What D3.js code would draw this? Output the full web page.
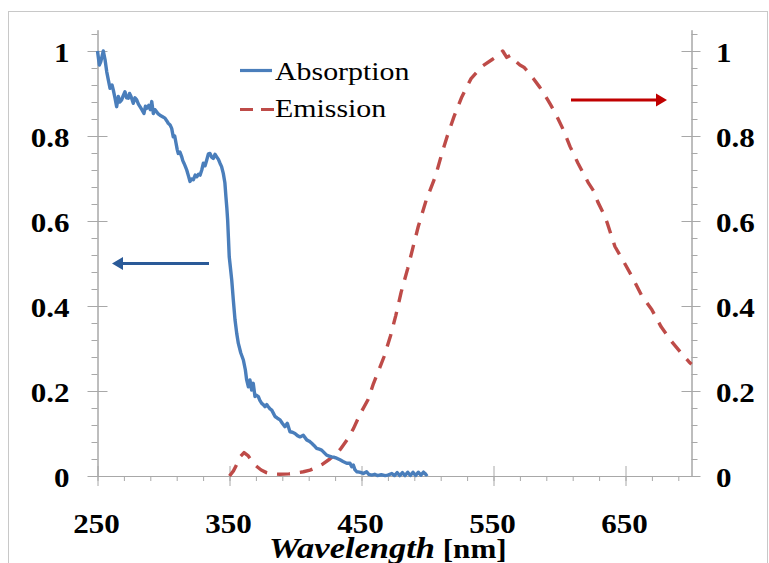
<!DOCTYPE html>
<html>
<head>
<meta charset="utf-8">
<script src="https://cdn.jsdelivr.net/npm/d3@7"></script>
<style>
  html, body { margin: 0; padding: 0; background: #fff; }
  svg { display: block; }
  text { font-family: "Liberation Serif", "Times New Roman", serif; fill: #000; }
</style>
</head>
<body>
<svg id="chart" width="769" height="563"></svg>
<script>
// Absorption spectrum: [wavelength nm, normalised absorbance]
const absorption = [
  [250,1.0],[251.4,0.967],[252.5,0.975],[254.4,1.0],[255.7,0.98],[257,0.951],[258.2,0.932],[259.5,0.912],
  [261,0.92],[262,0.908],[263.2,0.89],[264.5,0.869],[265.8,0.893],[267,0.88],[268.3,0.885],[269.5,0.895],
  [270.8,0.904],[272,0.89],[273.3,0.889],[274.3,0.9],[275.4,0.893],[277.1,0.877],[278.4,0.89],[279.7,0.885],
  [281,0.875],[282.2,0.869],[283.6,0.862],[285.2,0.853],[286.3,0.87],[287.3,0.865],[288.8,0.872],[290,0.862],
  [291.1,0.881],[292.3,0.853],[293.5,0.862],[294.8,0.857],[296,0.852],[297.3,0.849],[299,0.846],[301.1,0.842],
  [302.4,0.836],[303.6,0.83],[305,0.826],[306.2,0.818],[307.4,0.798],[308.5,0.8],[309.5,0.783],[310.4,0.768],
  [311.2,0.759],[312.5,0.762],[313.8,0.751],[314.6,0.742],[315.5,0.736],[316.6,0.728],[317.6,0.72],[319,0.705],
  [320.1,0.693],[321.3,0.699],[322.6,0.697],[324,0.708],[325.2,0.704],[326.5,0.71],[327.7,0.708],[329,0.72],
  [330.2,0.736],[331.5,0.73],[332.7,0.743],[334,0.758],[335.2,0.759],[336.5,0.75],[337.7,0.747],[339,0.757],
  [340.3,0.751],[341.6,0.745],[342.8,0.736],[344,0.728],[345.3,0.712],[346.5,0.69],[347.3,0.657],[348,0.63],
  [348.6,0.602],[349.2,0.56],[349.8,0.516],[350.7,0.49],[351.7,0.461],[352.9,0.414],[354.2,0.367],[355.5,0.335],
  [356.7,0.312],[358.5,0.29],[360.5,0.273],[362,0.25],[363,0.226],[364.3,0.21],[365.5,0.226],[366.8,0.202],
  [368,0.218],[369.3,0.187],[370.5,0.19],[371.8,0.187],[373,0.178],[374.4,0.171],[375.6,0.168],[376.9,0.163],
  [378.2,0.168],[379.4,0.163],[380.7,0.158],[382,0.155],[383.2,0.148],[384.5,0.14],[386.3,0.136],[388.3,0.132],
  [390,0.124],[392,0.116],[393.8,0.124],[395.8,0.104],[397.7,0.103],[399.6,0.1],[401.5,0.095],[403.4,0.092],
  [405.9,0.096],[408.5,0.085],[410.4,0.082],[412.3,0.077],[414,0.072],[416,0.065],[418,0.063],[419.8,0.061],
  [421.7,0.055],[423.6,0.049],[425.5,0.047],[427.4,0.045],[429.3,0.044],[431.2,0.042],[433.7,0.038],[436,0.034],
  [438.8,0.03],[441.3,0.03],[442.6,0.022],[443.8,0.026],[445,0.015],[446.4,0.01],[448.5,0.009],[451.4,0.006],
  [453.9,0.01],[455.5,0.004],[457.7,0.002],[460,0.004],[462,0.001],[465,0.003],[468,0.001],[470,0.002],
  [473,0.006],[475,0.001],[477,0.008],[479,0.001],[481,0.008],[483,0.001],[485,0.009],[487,0.001],
  [489,0.009],[491,0.001],[493,0.009],[495,0.002],[497,0.009],[499,0.003],[500,0.005]
];

// Emission spectrum: [wavelength nm, normalised intensity]
const emission = [
  [350,0],[353,0.012],[356,0.03],[358,0.045],[361,0.055],[364,0.048],[367,0.035],[370,0.024],
  [374,0.014],[378,0.008],[382,0.005],[388,0.004],[395,0.005],[400,0.007],[406,0.01],[411,0.014],
  [415,0.019],[420,0.027],[426,0.04],[430,0.05],[434,0.063],[439,0.085],[444,0.112],[449,0.146],
  [455,0.18],[459,0.217],[463,0.248],[467,0.28],[472,0.33],[476,0.378],[480,0.432],[485,0.488],
  [489,0.538],[493,0.587],[499,0.649],[506,0.705],[511,0.76],[515,0.8],[520,0.845],[526,0.892],
  [533,0.935],[541,0.963],[549,0.98],[554,0.99],[557,1.0],[560,0.985],[563,0.99],[566,0.978],
  [570,0.967],[573,0.962],[577,0.948],[580,0.936],[585,0.915],[589,0.896],[593,0.875],[597,0.853],
  [603,0.814],[608,0.775],[614,0.736],[622,0.689],[626,0.67],[629,0.645],[633,0.62],[636,0.597],
  [642,0.54],[648,0.508],[655,0.469],[662,0.426],[670,0.391],[677,0.351],[685,0.316],[692,0.29],
  [698,0.269],[700,0.263]
];

const seriesNames = ["Absorption", "Emission"];
const xMajorTicks = [250, 350, 450, 550, 650];
const xTickLabels = ["250", "350", "450", "550", "650"];
const yMajorTicks = [0, 0.2, 0.4, 0.6, 0.8, 1.0];
const yTickLabels = ["0", "0.2", "0.4", "0.6", "0.8", "1"];
const xTitle = ["Wavelength", "[nm]"];

const COL_ABS = "#4A7EBB", COL_EMI = "#BE4B48";
const AXIS_COL = "#A8A8A8";
const SX = 1.15; // horizontal stretch of the lettering
const TICK_FONT = "27px";

const svg = d3.select("#chart");

// outer chart frame
svg.append("rect")
  .attr("x", 8.5).attr("y", 11.5).attr("width", 759).attr("height", 600)
  .attr("fill", "#fff").attr("stroke", "#C8C8C8").attr("stroke-width", 1);

const x = d3.scaleLinear().domain([250, 700]).range([97.5, 691.5]);
const y = d3.scaleLinear().domain([0, 1.05]).range([476, 29.75]);
const x0 = x.range()[0], x1 = x.range()[1];

const xMinor = d3.range(250, 700, 20);
const yMinor = d3.range(0, 1.05, 0.04);

function styleAxis(g) {
  g.select(".domain").attr("stroke", AXIS_COL);
  g.selectAll(".tick line").attr("stroke", AXIS_COL);
}
function styleLabels(sel) {
  sel.attr("transform", `scale(${SX},1)`)
    .style("font-size", TICK_FONT).style("font-weight", "bold")
    .style("font-family", "'Liberation Serif', 'Times New Roman', serif");
}

// bottom axis: minor ticks hang below, majors cross the line
const gxMinor = svg.append("g").attr("transform", `translate(0,${y(0)})`)
  .call(d3.axisBottom(x).tickValues(xMinor).tickSize(5).tickSizeOuter(0).tickFormat(""));
styleAxis(gxMinor);
const gx = svg.append("g").attr("transform", `translate(0,${y(0)})`)
  .call(d3.axisBottom(x).tickValues(xMajorTicks).tickSizeOuter(0)
    .tickFormat((d, i) => xTickLabels[i]));
styleAxis(gx);
gx.selectAll(".tick line").attr("y1", -10).attr("y2", 10);
gx.selectAll(".tick text").attr("x", -1.5 / SX).attr("y", 57).attr("dy", 0).call(styleLabels);

// left axis (absorption)
const gyMinor = svg.append("g").attr("transform", `translate(${x0},0)`)
  .call(d3.axisLeft(y).tickValues(yMinor).tickSize(6).tickSizeOuter(0).tickFormat(""));
styleAxis(gyMinor);
const gy = svg.append("g").attr("transform", `translate(${x0},0)`)
  .call(d3.axisLeft(y).tickValues(yMajorTicks).tickSizeOuter(0)
    .tickFormat((d, i) => yTickLabels[i]));
styleAxis(gy);
gy.selectAll(".tick line").attr("x1", -10).attr("x2", 10);
gy.selectAll(".tick text").attr("x", -28 / SX).attr("dy", "0.4em").call(styleLabels);

// right axis (emission)
const gyrMinor = svg.append("g").attr("transform", `translate(${x1},0)`)
  .call(d3.axisRight(y).tickValues(yMinor).tickSize(6).tickSizeOuter(0).tickFormat(""));
styleAxis(gyrMinor);
const gyr = svg.append("g").attr("transform", `translate(${x1},0)`)
  .call(d3.axisRight(y).tickValues(yMajorTicks).tickSizeOuter(0)
    .tickFormat((d, i) => yTickLabels[i]));
styleAxis(gyr);
gyr.selectAll(".tick line").attr("x1", -10).attr("x2", 9);
gyr.selectAll(".tick text").attr("x", 24.5 / SX).attr("dy", "0.4em").call(styleLabels);

// spectra
const line = d3.line().x(d => x(d[0])).y(d => y(d[1]));
svg.append("path").datum(emission)
  .attr("d", line).attr("fill", "none")
  .attr("stroke", COL_EMI).attr("stroke-width", 3.4)
  .attr("stroke-dasharray", "13,10").attr("stroke-linejoin", "round");
svg.append("path").datum(absorption)
  .attr("d", line).attr("fill", "none")
  .attr("stroke", COL_ABS).attr("stroke-width", 3.4)
  .attr("stroke-linejoin", "round");

// legend
const legend = svg.append("g");
legend.append("line").attr("x1", 240).attr("x2", 272).attr("y1", 70.5).attr("y2", 70.5)
  .attr("stroke", COL_ABS).attr("stroke-width", 3.2);
legend.append("line").attr("x1", 240).attr("x2", 274).attr("y1", 109.5).attr("y2", 109.5)
  .attr("stroke", COL_EMI).attr("stroke-width", 3.2).attr("stroke-dasharray", "13,8");
legend.selectAll("text.lg").data(seriesNames).join("text")
  .attr("class", "lg")
  .attr("transform", (d, i) => `translate(275,${i === 0 ? 79.5 : 117}) scale(${SX},1)`)
  .style("font-size", "26px")
  .text(d => d);

// direction arrows: which axis each curve belongs to
function arrow(xTail, xTip, yy, col) {
  const dir = Math.sign(xTip - xTail);
  const head = 11;
  svg.append("line")
    .attr("x1", xTail).attr("x2", xTip - dir * head).attr("y1", yy).attr("y2", yy)
    .attr("stroke", col).attr("stroke-width", 3);
  svg.append("path")
    .attr("d", `M${xTip},${yy} L${xTip - dir * head},${yy - 6.5} L${xTip - dir * head},${yy + 6.5} Z`)
    .attr("fill", col);
}
arrow(209, 112, 263.5, "#2A5A98");
arrow(571, 667, 100, "#C00000");

// x-axis title
const title = svg.append("text")
  .attr("transform", `translate(269,558) scale(${SX},1)`)
  .style("font-weight", "bold");
title.append("tspan").style("font-style", "italic").style("font-size", "30px").text(xTitle[0]);
title.append("tspan").style("font-size", "27px").text(" " + xTitle[1]);
</script>
</body>
</html>
